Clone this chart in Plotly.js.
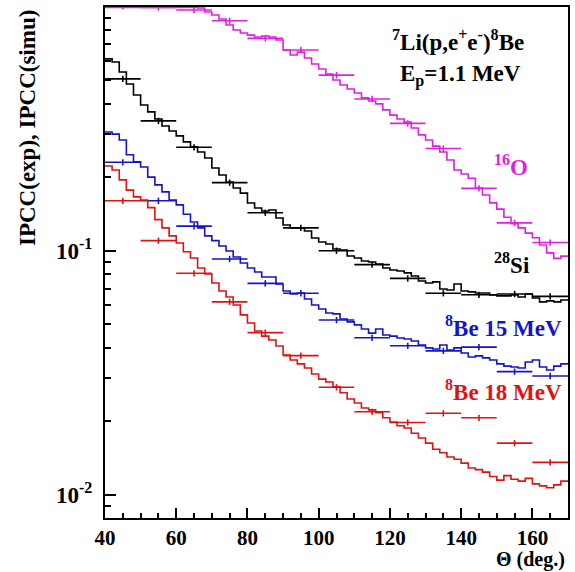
<!DOCTYPE html>
<html>
<head>
<meta charset="utf-8">
<script src="https://cdn.plot.ly/plotly-3.0.1.min.js"></script>
<style>html,body{margin:0;padding:0;background:#fff;}#chart{width:575px;height:572px;}</style>
</head>
<body>
<div id="chart"></div>
<script>
// ---- data ----
const firstBinEdge = 40, binWidth = 2, lastBinEdge = 170;

// simulated IPCC histograms (2-degree bins, 40..170 deg)
const simO16 = [0.99,0.99,0.99,0.99,0.99,0.99,0.99,0.99,0.99,0.99,0.99,0.99,0.99,
  0.985,0.948,0.922,0.888,0.839,0.800,0.778,0.763,0.749,0.756,0.749,0.728,0.663,0.632,0.650,0.615,0.581,
  0.554,0.529,0.500,0.477,0.459,0.442,0.422,0.410,0.399,0.377,0.359,0.346,0.336,0.318,0.298,0.284,0.268,
  0.2535,0.235,0.214,0.206,0.198,0.1805,0.169,0.157,0.148,0.137,0.129,0.124,0.118,0.113,0.1055,0.098,0.093,0.095];
const simSi28 = [0.610,0.592,0.539,0.481,0.434,0.395,0.370,0.346,0.324,0.309,0.295,0.279,0.266,0.2535,0.2395,
  0.218,0.204,0.191,0.1805,0.172,0.1567,0.1496,0.1454,0.1468,0.136,0.1274,0.1239,0.1239,0.1204,0.1127,
  0.1085,0.1065,0.1016,0.1007,0.0951,0.0934,0.0907,0.0899,0.0882,0.085,0.0834,0.0826,0.0811,0.0788,0.0751,
  0.0737,0.0745,0.0697,0.069,0.0731,0.0684,0.0678,0.0671,0.0671,0.0659,0.0653,0.0653,0.0659,0.0646,0.0665,
  0.064,0.0617,0.0623,0.0617,0.0628];
const simBe15 = [0.306,0.300,0.284,0.247,0.231,0.220,0.200,0.186,0.174,0.161,0.154,0.141,0.131,0.124,0.115,
  0.110,0.1045,0.0997,0.0942,0.089,0.085,0.0818,0.078,0.078,0.0731,0.0684,0.0665,0.0671,0.0634,0.0599,
  0.0577,0.0556,0.0551,0.0525,0.0511,0.0497,0.0478,0.046,0.0478,0.0452,0.0447,0.0439,0.0435,0.0427,0.0411,
  0.040,0.0396,0.0411,0.0392,0.040,0.0381,0.0367,0.0371,0.0364,0.0357,0.0344,0.0337,0.0334,0.0331,0.035,
  0.0357,0.0334,0.0325,0.0337,0.0344];
const simBe18 = [0.222,0.214,0.195,0.177,0.166,0.161,0.150,0.134,0.124,0.115,0.1075,0.099,0.0934,0.085,0.0803,
  0.0737,0.0684,0.0646,0.0599,0.0546,0.0506,0.0469,0.0447,0.0431,0.0407,0.0374,0.0357,0.0344,0.0331,0.0313,
  0.0298,0.029,0.0277,0.0262,0.0247,0.0238,0.0227,0.0223,0.0217,0.0207,0.0199,0.0192,0.0188,0.0179,0.0171,
  0.0163,0.0154,0.0149,0.0143,0.0140,0.0135,0.0129,0.0127,0.0124,0.0119,0.0115,0.0120,0.0116,0.0114,0.0117,
  0.0111,0.0109,0.0107,0.0110,0.0114];

// experimental IPCC points (10-degree bins)
const thetaExp = [45,55,65,75,85,95,105,115,125,135,145,155,165];
const expHalfWidth = 5;
const expO16  = [1.0,0.99,0.967,0.874,0.740,0.663,0.523,0.418,0.332,0.262,0.180,0.130,0.108];
const expSi28 = [0.505,0.340,0.265,0.190,0.143,0.124,0.100,0.0877,0.077,0.067,0.066,0.0665,0.065];
const expBe15 = [0.230,0.160,0.126,0.0925,0.0735,0.067,0.052,0.044,0.0408,0.0389,0.0403,0.032,0.0307];
const expBe18 = [0.160,0.110,0.0808,0.0617,0.0462,0.0372,0.0276,0.0219,0.0198,0.0216,0.0207,0.0163,0.0136];

const xTickVals = [40,60,80,100,120,140,160];
const yTickVals = [0.01,0.1];
const yTickText = ['10<sup>-2</sup>','10<sup>-1</sup>'];

// ---- styling ----
const cMag = '#dd22dd', cBlk = '#000000', cBlu = '#1414c8', cRed = '#dc1414';
const serif = 'Liberation Serif, Times New Roman, serif';

function histTrace(vals, color){
  const xs = [firstBinEdge], ys = [vals[0]];
  vals.forEach((v,i)=>{ xs.push(firstBinEdge + binWidth*(i+0.5)); ys.push(v); });
  xs.push(lastBinEdge); ys.push(vals[vals.length-1]);
  return {x:xs, y:ys, type:'scatter', mode:'lines', line:{shape:'hvh', color:color, width:1.6}, hoverinfo:'skip'};
}
function expTrace(vals, color){
  return {x:thetaExp, y:vals, type:'scatter', mode:'markers', marker:{size:1, color:color},
    error_x:{type:'constant', value:expHalfWidth, width:0, thickness:1.6, color:color},
    error_y:{type:'percent', value:3, width:0, thickness:1.6, color:color}};
}

const traces = [
  histTrace(simO16,cMag), expTrace(expO16,cMag),
  histTrace(simSi28,cBlk), expTrace(expSi28,cBlk),
  histTrace(simBe15,cBlu), expTrace(expBe15,cBlu),
  histTrace(simBe18,cRed), expTrace(expBe18,cRed)
];

const minorY = [0.008,0.009,0.02,0.03,0.04,0.05,0.06,0.07,0.08,0.09,0.2,0.3,0.4,0.5,0.6,0.7,0.8,0.9];
const W = 575, H = 572, L = 105, R = 7, T = 7, B = 54;
const pw = W-L-R, ph = H-T-B;
const px = v => (v-L)/pw, py = v => (H-B-v)/ph;

function ann(text, x, y, color, opts){
  return Object.assign({text:'<b>'+text+'</b>', xref:'paper', yref:'paper', x:px(x), y:py(y),
    xanchor:'left', yanchor:'middle', showarrow:false,
    font:{family:serif, size:23, color:color, weight:700}}, opts||{});
}

const layout = {
  width:W, height:H, margin:{l:L, r:R, t:T, b:B}, showlegend:false,
  paper_bgcolor:'#fff', plot_bgcolor:'#fff',
  xaxis:{range:[40,170], showgrid:false, zeroline:false, showline:true, mirror:true, linecolor:'#000', linewidth:2,
    ticks:'inside', ticklen:10, tickwidth:2, tickcolor:'#000', tickmode:'array', tickvals:xTickVals,
    minor:{ticks:'inside', ticklen:5, tickwidth:2, tickcolor:'#000', dtick:5, tick0:40},
    tickfont:{family:serif, size:21, color:'#000', weight:700}, layer:'below traces'},
  yaxis:{type:'log', range:[Math.log10(0.00805), -0.0025], showgrid:false, zeroline:false, showline:true, mirror:true,
    linecolor:'#000', linewidth:2, ticks:'inside', ticklen:11, tickwidth:2, tickcolor:'#000',
    tickmode:'array', tickvals:yTickVals, ticktext:yTickText,
    minor:{ticks:'inside', ticklen:6, tickwidth:2, tickcolor:'#000', tickmode:'array', tickvals:minorY},
    tickfont:{family:serif, size:23, color:'#000', weight:700}, ticklabelstandoff:6},
  annotations:[
    ann('<sup>7</sup>Li(p,e<sup>+</sup>e<sup>-</sup>)<sup>8</sup>Be', 390, 40, '#000'),
    ann('E<sub>p</sub>=1.1 MeV', 398, 75, '#000'),
    ann('<sup>16</sup>O', 492, 165, cMag),
    ann('<sup>28</sup>Si', 492, 263, '#000'),
    ann('<sup>8</sup>Be 15 MeV', 443, 326, cBlu),
    ann('<sup>8</sup>Be 18 MeV', 443, 390, cRed),
    ann('IPCC(exp), IPCC(simu)', 27, 128, '#000', {textangle:-90, xanchor:'center', yanchor:'middle'}),
    ann('\u0398 (deg.)', 567, 560, '#000', {xanchor:'right', font:{family:serif, size:20, color:'#000', weight:700}})
  ]
};

Plotly.newPlot('chart', traces, layout, {displayModeBar:false, staticPlot:true});
</script>
</body>
</html>
